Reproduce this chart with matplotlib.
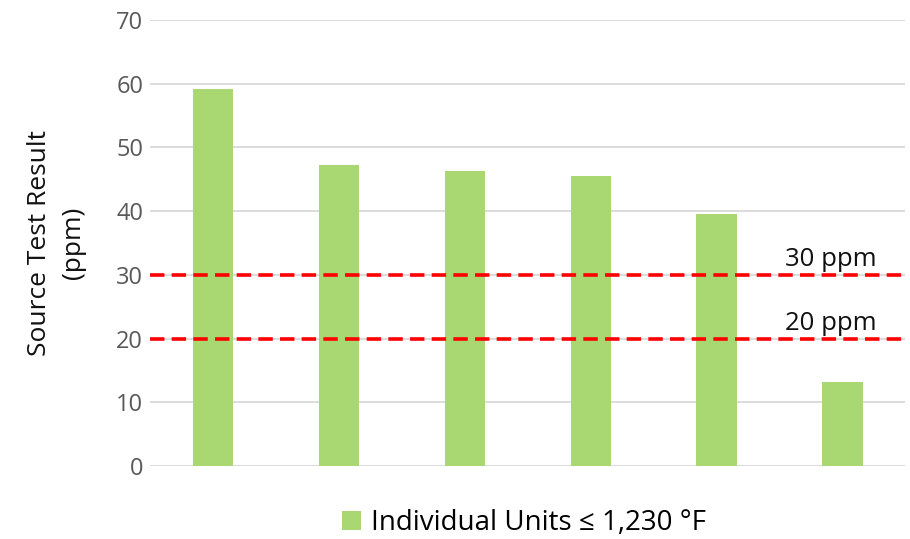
import matplotlib.pyplot as plt
import numpy as np

plt.rcParams['font.family'] = ['Open Sans', 'DejaVu Sans']

units = ['Unit 1', 'Unit 2', 'Unit 3', 'Unit 4', 'Unit 5', 'Unit 6']
results = [59.2, 47.2, 46.3, 45.5, 39.6, 13.2]
limits = [30, 20]
limit_labels = ['30 ppm', '20 ppm']
yticks = [0, 10, 20, 30, 40, 50, 60, 70]

fig = plt.figure(figsize=(9.1, 5.39), dpi=100)
ax = fig.add_axes([0.165, 0.135, 0.83, 0.828])

x = np.arange(len(units))
ax.bar(x, results, width=0.32, color='#a9d771', zorder=2,
       label='Individual Units \u2264 1,230 \u00b0F')

for lim, lab in zip(limits, limit_labels):
    ax.axhline(lim, color='#ff0000', linestyle=(0, (4, 2)), linewidth=2.6, zorder=3)
    ax.text(4.54, lim + 0.5, lab, fontsize=18.5, color='#111111', ha='left', va='bottom', zorder=4)

ax.set_xlim(-0.5, len(units) - 0.5)
ax.set_ylim(0, 70)
ax.set_yticks(yticks)
ax.set_xticks([])
ax.yaxis.grid(True, color='#d9d9d9', linewidth=1.3, zorder=0)
ax.set_axisbelow(True)
for s in ax.spines.values():
    s.set_visible(False)
ax.tick_params(axis='y', length=0, pad=5, labelsize=17, labelcolor='#595959')

ax.set_ylabel('Source Test Result\n(ppm)', fontsize=19, color='#111111', labelpad=22,
              linespacing=1.45)

ax.legend(loc='lower center', bbox_to_anchor=(0.495, -0.215), frameon=False,
          fontsize=20, handlelength=0.7, handleheight=0.7, handletextpad=0.35)

fig.savefig('out.png', dpi=100)
